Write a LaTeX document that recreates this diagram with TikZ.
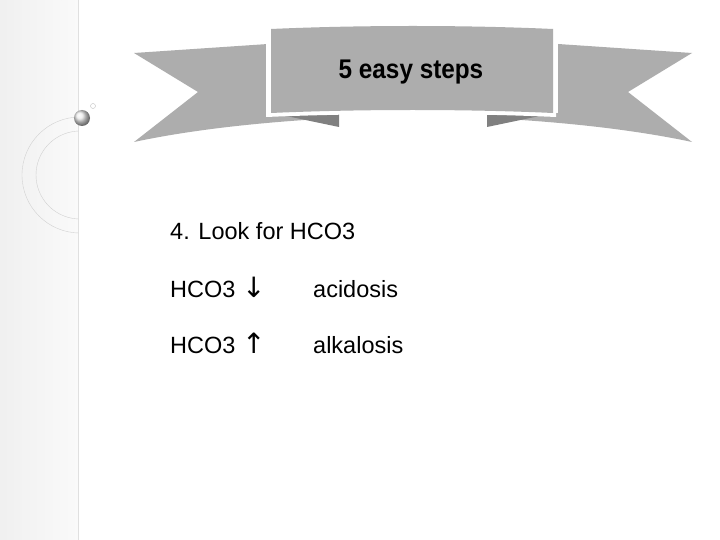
\documentclass[tikz,border=0pt]{standalone}
\usepackage{fontspec}
\setmainfont{Liberation Sans}
\begin{document}
\begin{tikzpicture}[x=1pt,y=-1pt,
  tail/.style={fill=black!32,draw=none},
  fold/.style={fill=black!50,draw=none},
  body/.style={font=\fontsize{23.5}{26}\selectfont,anchor=base west,inner sep=0pt}]
\useasboundingbox (0,0) rectangle (720,540);
\fill[white] (0,0) rectangle (720,540);
% left strip
\shade[left color=black!6,right color=black!2] (0,0) rectangle (78,540);
\draw[black!12] (78,0) -- (78,540);
\begin{scope}
\clip (0,0) rectangle (78,540);
\draw[black!18] (80,175) circle (58);
\draw[black!18] (80,175) circle (44);
\draw[white,line width=1.5pt] (65,0) arc (0:-80:50);
\draw[black!15] (62,0) arc (0:-90:60);
\end{scope}
\shade[ball color=black!8] (82,118) circle (8);
\draw[black!25] (93,106) circle (2.5);
% banner tails
\fill[tail] (134,53) -- (268,44) -- (268,113) -- (338,118) .. controls (260,122) and (190,130) .. (134,142) -- (198,92) -- cycle;
\fill[tail] (692,53) -- (558,44) -- (558,113) -- (488,118) .. controls (566,122) and (636,130) .. (692,142) -- (628,92) -- cycle;
\fill[fold] (272,113) -- (339,113) -- (339,127) -- cycle;
\fill[fold] (554,113) -- (487,113) -- (487,127) -- cycle;
\fill[white] (266,26) .. controls (360,22) and (466,22) .. (556,26) -- (556,117) .. controls (466,113) and (360,113) .. (266,117) -- cycle;
\fill[black!32] (271,29) .. controls (360,25) and (466,25) .. (553,29) -- (553,113) .. controls (466,109) and (360,109) .. (271,113) -- cycle;
\node[font=\bfseries\fontsize{27}{30}\selectfont,xscale=0.9] (title) at (411,72) {5 easy steps};
% body
\node[body] (l1) at (170,240) {4. Look for HCO3};
\node[body] (l2) at (170,297) {HCO3 {\fontspec{DejaVu Sans}\fontsize{28}{30}\selectfont↓}};
\node[body] (r2) at (313,297) {acidosis};
\node[body] (l3) at (170,353) {HCO3 {\fontspec{DejaVu Sans}\fontsize{28}{30}\selectfont↑}};
\node[body] (r3) at (313,353) {alkalosis};
\end{tikzpicture}
\end{document}
